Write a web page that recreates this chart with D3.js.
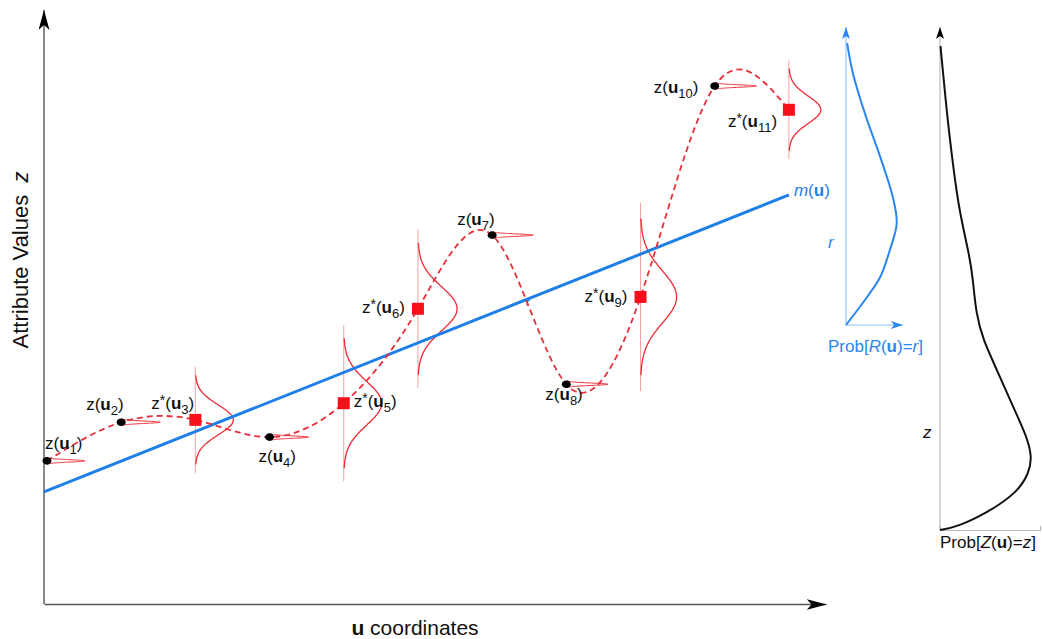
<!DOCTYPE html>
<html>
<head>
<meta charset="utf-8">
<script src="https://cdn.jsdelivr.net/npm/d3@7"></script>
<style>
body { margin: 0; background: #fff; }
svg { display: block; font-family: "Liberation Sans", Arial, sans-serif; }
</style>
</head>
<body>
<svg id="chart" width="1042" height="639"></svg>
<script>
// data: sample locations and attribute values
let uIndex = [1, 2, 3, 4, 5, 6, 7, 8, 9, 10, 11]
let zValue = [2.41, 3.06, 3.10, 2.81, 3.38, 4.97, 6.21, 3.70, 5.17, 8.72, 8.32]
let estimated = [false, false, true, false, true, true, false, false, true, false, true]
let sigma = [0.02, 0.02, 0.25, 0.02, 0.365, 0.37, 0.02, 0.02, 0.44, 0.02, 0.23]
let pdfPeak = [1.0, 1.03, 1.0, 1.03, 1.0, 1.03, 1.08, 1.1, 0.95, 1.1, 0.84]

// trend m(u)
let trendU = [0.96, 11.0]
let trendZ = [1.886, 6.886]

// residual distribution Prob[R(u)=r]
let rValue = [0, 0.94, 1.61, 2.52, 3.42, 4.30, 5.64, 7.11, 8.46, 9.46]
let rProb = [0, 0.37, 0.60, 0.77, 0.89, 0.82, 0.60, 0.33, 0.12, 0.02]

// attribute distribution Prob[Z(u)=z]
let zDistValue = [0, 0.06, 0.34, 0.74, 1.13, 1.45, 1.85, 2.45, 3.18, 3.78, 4.31, 4.97, 5.41, 6.36, 7.26, 8.25, 9.62]
let zDistProb = [0, 0.17, 0.47, 0.77, 0.89, 0.92, 0.87, 0.73, 0.57, 0.43, 0.36, 0.33, 0.30, 0.19, 0.13, 0.07, 0.005]

// label placement (px offsets from the point)
let labelDx = [-2, -35, -44, -11, 10, -56, -35, -21, -56, -61, -61]
let labelDy = [-12, -12, -11, 25, 4, 4, -10, 16, 5, 7, 17]

// scales
let svg = d3.select('#chart')
let x = d3.scaleLinear().domain([0.96, 11.5]).range([44, 826])
let y = d3.scaleLinear().domain([0, 10]).range([604, 10])
let pdfX = d3.scaleLinear().domain([0, 1]).range([0, 38])

let rX = d3.scaleLinear().domain([0, 1]).range([846, 903])
let rY = d3.scaleLinear().domain([0, 10]).range([325, 27])
let zX = d3.scaleLinear().domain([0, 1]).range([940, 1040])
let zY = d3.scaleLinear().domain([0, 10]).range([530, 27])

// arrow markers
let defs = svg.append('defs')
function marker(id, w, h, color) {
    defs.append('marker')
        .attr('id', id)
        .attr('markerUnits', 'userSpaceOnUse')
        .attr('markerWidth', w).attr('markerHeight', h)
        .attr('refX', w).attr('refY', h / 2)
        .attr('orient', 'auto')
        .append('path')
        .attr('d', `M0,0L${w},${h / 2}L0,${h}L${w * 0.25},${h / 2}Z`)
        .attr('fill', color)
}
marker('arrowBig', 20, 11, '#000')
marker('arrowBlue', 12, 8, '#2a86f0')
marker('arrowSmall', 12, 8, '#000')

// main axes
let xAxis = svg.append('g').attr('transform', `translate(0,${y(0)})`)
    .call(d3.axisBottom(x).tickValues([]).tickSizeOuter(0))
let yAxis = svg.append('g').attr('transform', `translate(${x(0.96)},0)`)
    .call(d3.axisLeft(y).tickValues([]).tickSizeOuter(0))
svg.selectAll('.domain').attr('stroke', '#555').attr('stroke-width', 1.4)
xAxis.select('.domain').attr('marker-end', 'url(#arrowBig)')
yAxis.select('.domain').attr('d', `M0,${y(0)}V${y(10)}`).attr('marker-end', 'url(#arrowBig)')

svg.append('text')
    .attr('transform', `translate(28,260) rotate(-90)`)
    .attr('text-anchor', 'middle')
    .attr('font-size', 22)
    .attr('fill', '#111')
    .text('Attribute Values\u00a0\u00a0')
    .append('tspan').attr('font-style', 'italic').text('z')

let xt = svg.append('text')
    .attr('x', 415).attr('y', 635)
    .attr('text-anchor', 'middle')
    .attr('font-size', 21)
    .attr('fill', '#111')
xt.append('tspan').attr('font-weight', 'bold').text('u')
xt.append('tspan').text(' coordinates')

// gaussian curve helper
let gauss = (t) => Math.exp(-0.5 * t * t)
let steps = d3.range(-3, 3.0001, 0.05)

let pts = uIndex.map((u, i) => ({u: u, z: zValue[i], est: estimated[i], s: sigma[i], peak: pdfPeak[i], i: i}))

// vertical support lines at estimated locations
svg.append('g').selectAll('line')
    .data(pts.filter(d => d.est))
    .join('line')
    .attr('x1', d => x(d.u)).attr('x2', d => x(d.u))
    .attr('y1', d => y(d.z + 3.6 * d.s)).attr('y2', d => y(d.z - 3.6 * d.s))
    .attr('stroke', '#f6a2a2').attr('stroke-width', 1)

// distributions (wide at estimated points, needles at data points)
let pdfLine = d3.line().curve(d3.curveBasis)
svg.append('g').selectAll('path')
    .data(pts)
    .join('path')
    .attr('d', d => pdfLine(steps.map(t => [x(d.u) + pdfX(d.peak * gauss(t)), y(d.z + t * d.s)])))
    .attr('fill', 'none')
    .attr('stroke', '#ee2a35')
    .attr('stroke-width', d => d.est ? 1.3 : 1)

// trend line m(u)
svg.append('path')
    .datum(trendU.map((u, i) => [u, trendZ[i]]))
    .attr('d', d3.line().x(d => x(d[0])).y(d => y(d[1])))
    .attr('stroke', '#1f7fe8').attr('stroke-width', 3).attr('fill', 'none')

let mt = svg.append('text')
    .attr('x', x(trendU[1]) + 5).attr('y', y(trendZ[1]) + 1)
    .attr('font-size', 17).attr('fill', '#1f7fe8')
mt.append('tspan').attr('font-style', 'italic').text('m')
mt.append('tspan').text('(')
mt.append('tspan').attr('font-weight', 'bold').text('u')
mt.append('tspan').text(')')

svg.append('text')
    .attr('x', 526).attr('y', 306)
    .attr('font-size', 11).attr('font-style', 'italic')
    .attr('fill', '#1f7fe8').text('r')

// dashed interpolating curve
svg.append('path')
    .datum(pts)
    .attr('d', d3.line().curve(d3.curveNatural).x(d => x(d.u)).y(d => y(d.z)))
    .attr('fill', 'none')
    .attr('stroke', '#e8303b').attr('stroke-width', 1.8)
    .attr('stroke-dasharray', '6,4')

// data points and estimates
svg.append('g').selectAll('ellipse')
    .data(pts.filter(d => !d.est))
    .join('ellipse')
    .attr('cx', d => x(d.u)).attr('cy', d => y(d.z))
    .attr('rx', 4.5).attr('ry', 3.8).attr('fill', '#000')

svg.append('g').selectAll('rect')
    .data(pts.filter(d => d.est))
    .join('rect')
    .attr('x', d => x(d.u) - 6).attr('y', d => y(d.z) - 6)
    .attr('width', 12).attr('height', 12)
    .attr('fill', '#f5101c')

// labels
let labels = svg.append('g').selectAll('text')
    .data(pts)
    .join('text')
    .attr('x', d => x(d.u) + labelDx[d.i])
    .attr('y', d => y(d.z) + labelDy[d.i])
    .attr('font-size', 17)
    .attr('fill', '#111')
labels.each(function(d) {
    let t = d3.select(this)
    t.append('tspan').text('z')
    if (d.est) t.append('tspan').attr('font-size', 14).attr('dy', -4).text('*')
    t.append('tspan').attr('dy', d.est ? 4 : 0).text('(')
    t.append('tspan').attr('font-weight', 'bold').text('u')
    t.append('tspan').attr('font-size', 13).attr('dy', 5).text(d.u)
    t.append('tspan').attr('dy', -5).text(')')
})

// residual panel
svg.append('line')
    .attr('x1', rX(0)).attr('x2', rX(0)).attr('y1', rY(0)).attr('y2', rY(10))
    .attr('stroke', '#8fc0ff').attr('stroke-width', 1.2).attr('marker-end', 'url(#arrowBlue)')
svg.append('line')
    .attr('x1', rX(0)).attr('x2', rX(1)).attr('y1', rY(0)).attr('y2', rY(0))
    .attr('stroke', '#8fc0ff').attr('stroke-width', 1.2).attr('marker-end', 'url(#arrowBlue)')
svg.append('path')
    .datum(rValue.map((r, i) => [rProb[i], r]))
    .attr('d', d3.line().curve(d3.curveCatmullRom).x(d => rX(d[0])).y(d => rY(d[1])))
    .attr('fill', 'none').attr('stroke', '#2a86f0').attr('stroke-width', 2)
svg.append('text')
    .attr('x', 828).attr('y', 248)
    .attr('font-size', 17).attr('font-style', 'italic').attr('fill', '#2a86f0').text('r')
let rt = svg.append('text')
    .attr('x', 828).attr('y', 352)
    .attr('font-size', 17).attr('fill', '#2a86f0')
rt.append('tspan').text('Prob[')
rt.append('tspan').attr('font-style', 'italic').text('R')
rt.append('tspan').text('(')
rt.append('tspan').attr('font-weight', 'bold').text('u')
rt.append('tspan').text(')=')
rt.append('tspan').attr('font-style', 'italic').text('r')
rt.append('tspan').text(']')

// attribute distribution panel
svg.append('line')
    .attr('x1', zX(0)).attr('x2', zX(0)).attr('y1', zY(0)).attr('y2', zY(10))
    .attr('stroke', '#bbb').attr('stroke-width', 1.2).attr('marker-end', 'url(#arrowSmall)')
svg.append('g').attr('transform', `translate(0,${zY(0)})`)
    .call(d3.axisBottom(zX).tickValues([]).tickSizeOuter(-4))
    .select('.domain').attr('stroke', '#bbb').attr('stroke-width', 1.2)
svg.append('path')
    .datum(zDistValue.map((z, i) => [zDistProb[i], z]))
    .attr('d', d3.line().curve(d3.curveBasis).x(d => zX(d[0])).y(d => zY(d[1])))
    .attr('fill', 'none').attr('stroke', '#111').attr('stroke-width', 2)
svg.append('text')
    .attr('x', 923).attr('y', 438)
    .attr('font-size', 17).attr('font-style', 'italic').attr('fill', '#111').text('z')
let zt = svg.append('text')
    .attr('x', 940).attr('y', 548)
    .attr('font-size', 17).attr('fill', '#111')
zt.append('tspan').text('Prob[')
zt.append('tspan').attr('font-style', 'italic').text('Z')
zt.append('tspan').text('(')
zt.append('tspan').attr('font-weight', 'bold').text('u')
zt.append('tspan').text(')=')
zt.append('tspan').attr('font-style', 'italic').text('z')
zt.append('tspan').text(']')
</script>
</body>
</html>
